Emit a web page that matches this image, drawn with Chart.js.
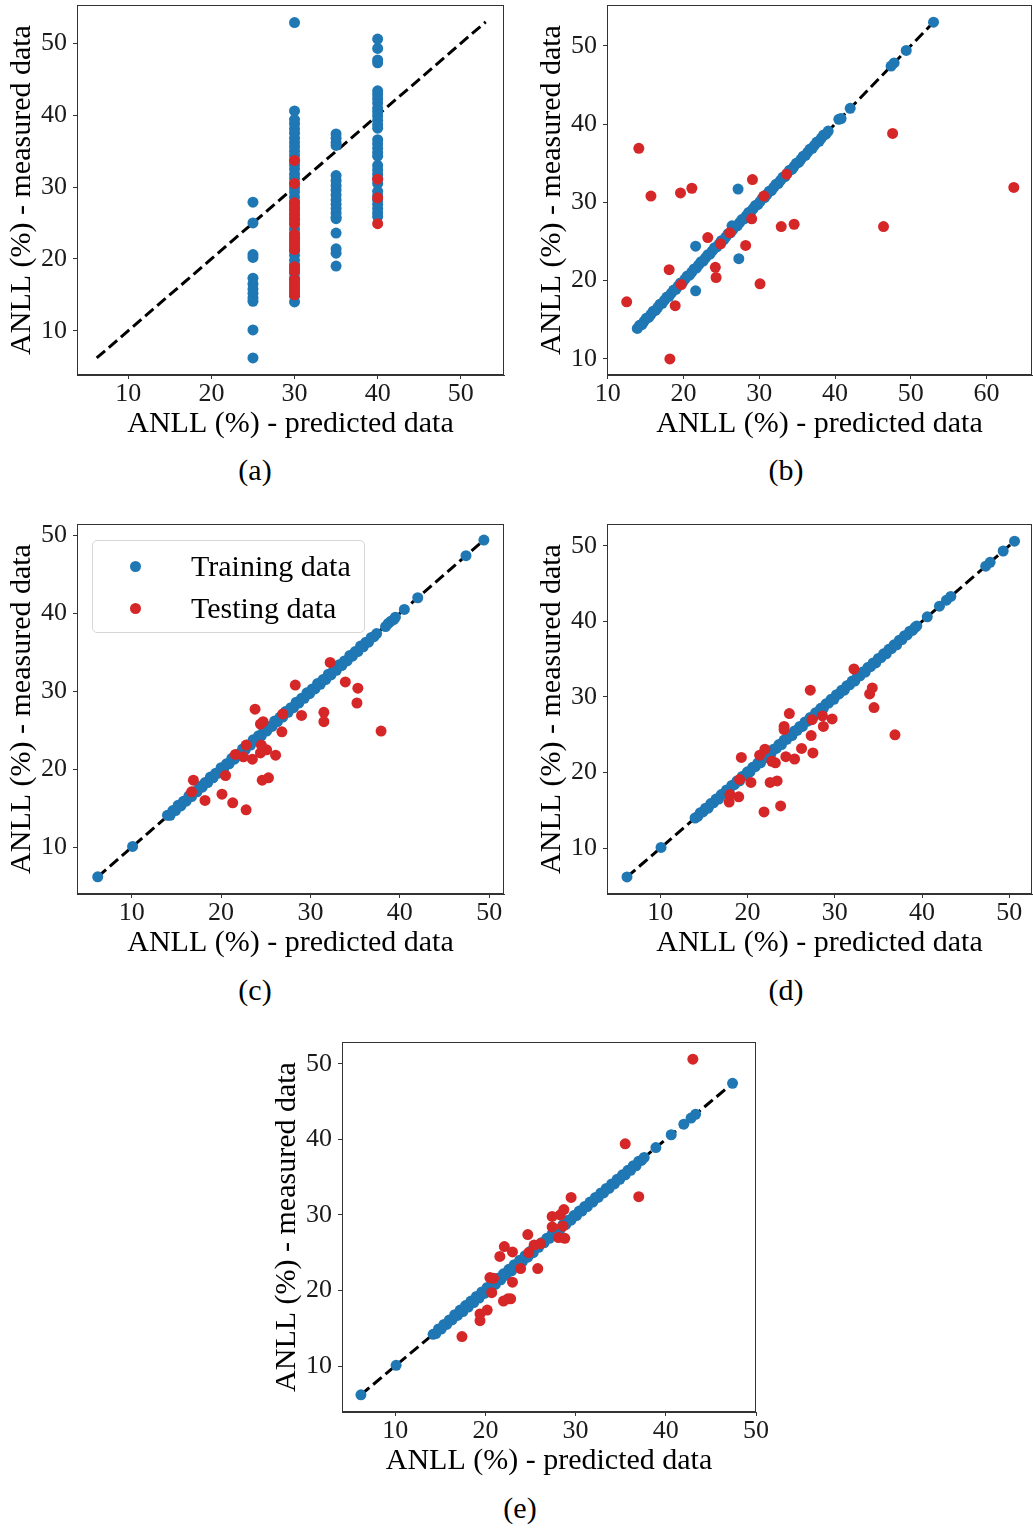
<!DOCTYPE html>
<html>
<head>
<meta charset="utf-8">
<script src="https://cdn.jsdelivr.net/npm/chart.js@4.4.1/dist/chart.umd.min.js"></script>
<style>
  html, body { margin: 0; padding: 0; background: #fff; }
  body { width: 1033px; height: 1529px; position: relative; overflow: hidden; font-family: "Liberation Serif", serif; color: #000; }
  .panel { position: absolute; }
  .cap { position: absolute; width: 80px; height: 36px; line-height: 36px; text-align: center; font-size: 30px; }
  .legend { position: absolute; left: 92px; top: 540px; width: 271px; height: 91px; border: 1px solid #d6d6d6; border-radius: 5px; background: rgba(255,255,255,0.85); }
  .lrow { position: absolute; left: 0; height: 36px; line-height: 36px; font-size: 30px; white-space: nowrap; }
  .dot { position: absolute; left: 37px; top: 13px; width: 11px; height: 11px; border-radius: 50%; }
  .ltxt { position: absolute; left: 98px; top: 0; }
</style>
</head>
<body>
<script>
// ---------------- data ----------------
// panel (a): predicted values are discrete columns
const colsA = [25, 30, 35, 40];
const trainMeasA = [
  [27.9, 25.0, 20.6, 20.2, 17.3, 16.5, 15.8, 15.2, 14.6, 14.1, 10.1, 6.2],
  [52.9, 40.6, 39.4, 38.8, 38.1, 37.5, 36.8, 36.2, 35.6, 35.0, 34.4, 33.7, 33.1, 32.5, 31.8, 31.2, 30.5, 29.9, 29.3, 28.6, 28.0, 27.4, 26.8, 26.1, 25.5, 24.9, 24.2, 23.6, 23.0, 22.4, 21.7, 21.1, 20.5, 19.8, 19.2, 18.6, 18.0, 17.3, 16.7, 16.1, 15.4, 14.8, 14.0],
  [37.4, 36.8, 36.2, 35.8, 31.6, 30.9, 30.2, 29.6, 28.9, 28.2, 27.6, 27.0, 26.4, 25.8, 25.6, 23.6, 21.4, 20.8, 19.0],
  [50.6, 49.3, 47.7, 47.3, 43.4, 42.9, 42.3, 41.7, 41.0, 40.5, 39.9, 39.3, 38.7, 38.2, 36.6, 36.0, 35.4, 34.8, 34.3, 33.0, 32.4, 31.8, 31.2, 30.5, 29.4, 28.8, 28.2, 27.6, 27.0, 26.4, 25.9]
];
const testMeasA = [
  [],
  [33.7, 30.5, 27.8, 27.0, 26.3, 25.6, 24.9, 23.4, 22.7, 22.0, 21.3, 18.9, 18.3, 17.1, 16.4, 15.7, 15.0],
  [],
  [31.1, 28.5, 24.9]
];
const lineA = [6.2, 53.0];
const xLimA = [3.83, 55.2], yLimA = [3.83, 55.35];

// panel (b)  [predicted, measured]
const trainB = [
  [13.9,13.9],[14.2,14.3],[14.5,14.4],[14.8,14.8],[15.1,15.2],[15.4,15.3],[15.7,15.7],[16.0,16.1],[16.3,16.2],[16.6,16.6],
  [16.9,17.0],[17.2,17.1],[17.5,17.5],[17.8,17.9],[18.1,18.0],[18.4,18.4],[18.7,18.8],[19.0,18.9],[19.3,19.3],[19.6,19.7],
  [19.9,19.8],[20.2,20.2],[20.5,20.6],[20.8,20.7],[21.1,21.1],[21.4,21.5],[21.7,21.6],[22.0,22.0],[22.3,22.4],[22.6,22.5],
  [22.9,22.9],[23.2,23.3],[23.5,23.4],[23.8,23.8],[24.1,24.2],[24.4,24.3],[24.7,24.7],[25.0,25.1],[25.3,25.2],[25.6,25.6],
  [25.9,26.0],[26.2,26.1],[26.5,26.5],[26.8,26.9],[27.1,27.0],[27.4,27.4],[27.7,27.8],[28.0,27.9],[28.3,28.3],[28.6,28.7],
  [28.9,28.8],[29.2,29.2],[29.5,29.6],[29.8,29.7],[30.1,30.1],[30.4,30.5],[30.7,30.6],[31.0,31.0],[31.3,31.4],[31.6,31.5],
  [31.9,31.9],[32.2,32.3],[32.5,32.4],[32.8,32.8],[33.1,33.2],[33.4,33.3],[33.7,33.7],[34.0,34.1],[34.3,34.2],[34.6,34.6],
  [34.9,35.0],[35.2,35.1],[35.5,35.5],[35.8,35.9],[36.1,36.0],[36.4,36.4],[36.7,36.8],[37.0,36.9],[37.3,37.3],[37.6,37.7],
  [37.9,37.8],[38.2,38.2],[38.5,38.6],[38.8,38.7],[39.1,39.1],
  [40.5,40.6],[40.8,40.7],[42.0,42.0],[47.4,47.4],[47.8,47.8],[49.4,49.4],[53.0,53.0],
  [27.2,31.7],[21.6,24.4],[21.6,18.7],[27.3,22.8],[26.4,27.0]
];
const testB = [
  [12.5,17.3],[14.1,36.9],[15.7,30.8],[18.1,21.4],[18.9,16.8],[18.2,10.0],[19.6,31.2],[19.7,19.5],[21.1,31.8],[23.2,25.5],
  [24.2,21.7],[24.3,20.4],[24.9,24.7],[26.1,26.1],[28.2,24.5],[29.0,27.9],[29.1,32.9],[30.1,19.6],[30.6,30.8],[32.9,26.9],
  [33.6,33.6],[34.6,27.2],[46.4,26.9],[47.6,38.8],[63.6,31.9]
];
const lineB = [13.9, 53.0];
const xLimB = [9.9, 66.0], yLimB = [7.95, 55.2];

// panel (c)
const trainC = [
  [6.2,6.2],[10.1,10.1],
  [14.0,14.1],[14.3,14.1],[14.6,14.7],[14.9,14.7],[15.2,15.4],[15.5,15.3],[15.8,15.9],[16.1,15.9],[16.4,16.6],[16.7,16.5],
  [17.0,17.1],[17.3,17.1],[17.6,17.8],[17.9,17.7],[18.2,18.3],[18.5,18.3],[18.8,19.0],[19.1,18.9],[19.4,19.5],[19.7,19.5],
  [20.0,20.2],[20.3,20.1],[20.6,20.7],[20.9,20.7],[21.2,21.4],[21.5,21.3],[21.8,21.9],[22.1,21.9],[22.4,22.6],[22.7,22.5],
  [23.0,23.1],[23.3,23.1],[23.6,23.8],[23.9,23.7],[24.2,24.3],[24.5,24.3],[24.8,25.0],[25.1,24.9],[25.4,25.5],[25.7,25.5],
  [26.0,26.2],[26.3,26.1],[26.6,26.7],[26.9,26.7],[27.2,27.4],[27.5,27.3],[27.8,27.9],[28.1,27.9],[28.4,28.6],[28.7,28.5],
  [29.0,29.1],[29.3,29.1],[29.6,29.8],[29.9,29.7],[30.2,30.3],[30.5,30.3],[30.8,31.0],[31.1,30.9],[31.4,31.5],[31.7,31.5],
  [32.0,32.2],[32.3,32.1],[32.6,32.7],[32.9,32.7],[33.2,33.4],[33.5,33.3],[33.8,33.9],[34.1,33.9],[34.4,34.6],[34.7,34.5],
  [35.0,35.1],[35.3,35.1],[35.6,35.8],[35.9,35.7],[36.2,36.3],[36.5,36.3],[36.8,36.9],[37.1,37.0],[37.4,37.4],
  [38.4,38.3],[38.7,38.7],[39.0,39.0],[39.3,39.2],[39.5,39.5],[40.5,40.5],[42.0,42.0],[47.4,47.4],[49.4,49.4]
];
const testC = [
  [16.7,17.1],[16.9,18.6],[18.2,16.0],[20.1,16.8],[20.5,19.2],[21.3,15.7],[21.6,21.9],[22.8,14.8],[22.8,23.1],[22.5,21.6],
  [23.5,21.3],[23.8,27.7],[24.4,25.8],[24.7,26.1],[24.5,23.1],[24.4,22.1],[25.1,22.5],[24.6,18.6],[25.3,18.9],[26.1,21.8],
  [26.8,24.8],[26.9,27.1],[28.3,30.8],[29.0,26.9],[31.5,26.1],[31.5,27.3],[32.2,33.7],[33.9,31.2],[35.3,30.4],[35.2,28.5],
  [37.9,24.9]
];
const lineC = [6.2, 49.4];
const xLimC = [3.88, 51.65], yLimC = [4.0, 51.46];

// panel (d)
const trainD = [
  [6.2,6.2],[10.1,10.1],
  [14.0,14.0],[14.3,14.2],[14.6,14.7],[14.9,14.8],[15.2,15.3],[15.5,15.3],[15.8,15.9],[16.1,16.0],[16.4,16.5],[16.7,16.5],
  [17.0,17.1],[17.3,17.2],[17.6,17.7],[17.9,17.7],[18.2,18.3],[18.5,18.4],[18.8,18.9],[19.1,18.9],[19.4,19.5],[19.7,19.6],
  [20.0,20.1],[20.3,20.1],[20.6,20.7],[20.9,20.8],[21.2,21.3],[21.5,21.3],[21.8,21.9],[22.1,22.0],[22.4,22.5],[22.7,22.5],
  [23.0,23.1],[23.3,23.2],[23.6,23.7],[23.9,23.7],[24.2,24.3],[24.5,24.4],[24.8,24.9],[25.1,24.9],[25.4,25.5],[25.7,25.6],
  [26.0,26.1],[26.3,26.1],[26.6,26.7],[26.9,26.8],[27.2,27.3],[27.5,27.3],[27.8,27.9],[28.1,28.0],[28.4,28.5],[28.7,28.5],
  [29.0,29.1],[29.3,29.2],[29.6,29.7],[29.9,29.7],[30.2,30.3],[30.5,30.4],[30.8,30.9],[31.1,30.9],[31.4,31.5],[31.7,31.6],
  [32.0,32.1],[32.3,32.1],[32.6,32.7],[32.9,32.8],[33.2,33.3],[33.5,33.3],[33.8,33.9],[34.1,34.0],[34.4,34.5],[34.7,34.5],
  [35.0,35.1],[35.3,35.2],[35.6,35.7],[35.9,35.7],[36.2,36.3],[36.5,36.4],[36.8,36.9],[37.1,36.9],[37.4,37.5],[37.7,37.6],
  [38.0,38.1],[38.3,38.2],[38.6,38.7],[38.9,38.8],[39.2,39.2],[39.4,39.4],
  [40.6,40.6],[42.0,42.0],[42.8,42.8],[43.3,43.3],[47.3,47.3],[47.8,47.8],[49.3,49.3],[50.6,50.6]
];
const testD = [
  [17.9,16.1],[18.0,17.1],[19.0,16.8],[19.1,19.1],[19.3,22.0],[20.4,18.7],[21.4,22.3],[22.0,23.1],[21.9,14.8],[22.6,18.7],
  [22.8,21.5],[23.2,21.3],[23.4,18.9],[23.8,15.6],[24.2,26.1],[24.2,25.7],[24.4,22.1],[24.8,27.8],[25.4,21.8],[26.2,23.2],
  [27.2,30.9],[27.3,24.9],[27.4,27.0],[27.5,22.6],[28.6,27.5],[28.7,26.1],[29.7,27.1],[32.2,33.7],[34.0,30.4],[34.3,31.2],
  [34.5,28.6],[36.9,25.0]
];
const lineD = [6.2, 50.6];
const xLimD = [3.91, 52.6], yLimD = [3.95, 52.87];

// panel (e)
const trainE = [
  [6.2,6.2],[10.1,10.1],
  [14.2,14.2],[14.5,14.3],[14.8,14.9],[15.1,14.9],[15.4,15.5],[15.7,15.5],[16.0,16.1],[16.3,16.1],[16.6,16.8],[16.9,16.7],
  [17.2,17.4],[17.5,17.2],[17.8,18.0],[18.1,17.8],[18.4,18.6],[18.7,18.4],[19.0,19.2],[19.3,19.0],[19.6,19.8],[19.9,19.6],
  [20.2,20.4],[20.5,20.2],[20.8,21.0],[21.1,20.8],[21.4,21.6],[21.7,21.4],[22.0,22.2],[22.3,22.0],[22.6,22.8],[22.9,22.6],
  [23.2,23.4],[23.5,23.2],[23.8,24.0],[24.1,23.8],[24.4,24.6],[24.7,24.4],[25.0,25.2],[25.3,25.0],[25.6,25.7],[25.9,25.7],
  [26.2,26.3],[26.5,26.3],[26.8,26.9],[27.1,26.9],[27.4,27.5],[27.7,27.5],[28.0,28.1],[28.3,28.1],[28.6,28.7],[28.9,28.7],
  [29.2,29.3],[29.5,29.3],[29.8,29.9],[30.1,29.9],[30.4,30.5],[30.7,30.5],[31.0,31.1],[31.3,31.1],[31.6,31.7],[31.9,31.7],
  [32.2,32.3],[32.5,32.3],[32.8,32.9],[33.1,32.9],[33.4,33.5],[33.7,33.5],[34.0,34.1],[34.3,34.1],[34.6,34.7],[34.9,34.7],
  [35.2,35.3],[35.5,35.3],[35.8,35.9],[36.1,35.9],[36.4,36.5],[36.7,36.5],[37.0,37.1],[37.3,37.2],[37.6,37.6],
  [38.9,38.9],[40.6,40.6],[42.0,42.0],[42.8,42.8],[43.3,43.3],[47.4,47.4]
];
const testE = [
  [17.4,13.9],[19.4,16.0],[19.4,16.9],[20.2,17.4],[20.7,19.7],[20.5,21.7],[20.9,21.6],[21.6,24.5],[22.1,25.8],[22.0,18.6],
  [22.5,18.9],[22.8,18.9],[23.0,21.1],[23.0,25.1],[23.9,22.9],[24.7,27.4],[24.8,25.0],[25.4,26.0],[26.1,26.2],[25.8,22.9],
  [27.4,29.8],[27.4,28.4],[28.1,27.0],[28.6,28.5],[28.7,30.7],[28.3,30.0],[28.8,26.9],[29.5,32.3],[35.5,39.4],[37.0,32.4],
  [43.0,50.6]
];
const lineE = [6.2, 47.4];
const xLimE = [4.1, 50.0], yLimE = [3.92, 52.87];

const tickVals = [10, 20, 30, 40, 50, 60];
const xTitle = 'ANLL (%) - predicted data';
const yTitle = 'ANLL (%) - measured data';
const legendLabels = ['Training data', 'Testing data'];
const captions = ['(a)', '(b)', '(c)', '(d)', '(e)'];

// ---------------- drawing ----------------
const BLUE = '#1f77b4', RED = '#d62728';
const FONT = "'Liberation Serif', 'Times New Roman', serif";
const Y_AXIS_W = 77, X_AXIS_H = 75, PAD_T = 5;
const R = 5.5;

const frame = {
  id: 'frame',
  afterDatasetsDraw(chart) {
    const a = chart.chartArea, c = chart.ctx;
    c.save();
    c.strokeStyle = '#333';
    c.lineWidth = 1;
    c.strokeRect(Math.round(a.left) + 0.5, Math.round(a.top) + 0.5, Math.round(a.right - a.left) - 1, Math.round(a.bottom - a.top) - 1);
    c.restore();
  }
};

function pts(arr) { return arr.map(p => ({ x: p[0], y: p[1] })); }

function panel(area, padR, xlim, ylim, lineEnds, train, test) {
  const left = area.L - Y_AXIS_W, top = area.T - PAD_T;
  const w = area.R - area.L + Y_AXIS_W + padR, h = area.B - area.T + PAD_T + X_AXIS_H;
  const div = document.createElement('div');
  div.className = 'panel';
  div.style.left = left + 'px'; div.style.top = top + 'px';
  div.style.width = w + 'px'; div.style.height = h + 'px';
  const cv = document.createElement('canvas');
  div.appendChild(cv);
  document.body.appendChild(div);

  const tickOpts = {
    font: { family: FONT, size: 26, lineHeight: 1.1 },
    color: '#1a1a1a',
    stepSize: 10,
    includeBounds: false,
    autoSkip: false,
    maxRotation: 0,
    callback: v => (tickVals.includes(v) ? String(v) : '')
  };
  const gridOpts = { display: true, drawOnChartArea: false, drawTicks: true, tickLength: 4, color: '#333', tickWidth: 1 };
  const borderOpts = { display: true, color: '#333', width: 1 };

  new Chart(cv, {
    type: 'scatter',
    data: {
      datasets: [
        { label: legendLabels[1], data: pts(test), backgroundColor: RED, pointRadius: R, pointBorderWidth: 0, order: 1 },
        { label: legendLabels[0], data: pts(train), backgroundColor: BLUE, pointRadius: R, pointBorderWidth: 0, order: 2 },
        { label: 'y = x', data: [{ x: lineEnds[0], y: lineEnds[0] }, { x: lineEnds[1], y: lineEnds[1] }],
          showLine: true, borderColor: '#000', borderWidth: 3, borderDash: [11, 5], pointRadius: 0, order: 3 }
      ]
    },
    options: {
      responsive: true,
      maintainAspectRatio: false,
      animation: false,
      events: [],
      layout: { autoPadding: false, padding: { top: PAD_T, right: padR, left: 0, bottom: 0 } },
      plugins: { legend: { display: false }, tooltip: { enabled: false } },
      scales: {
        x: {
          type: 'linear', min: xlim[0], max: xlim[1],
          ticks: Object.assign({}, tickOpts, { padding: 1 }),
          grid: gridOpts, border: borderOpts,
          title: { display: true, text: xTitle, color: '#000', font: { family: FONT, size: 30, lineHeight: 1.2 }, padding: { top: 0, bottom: 8 } },
          afterFit: s => { s.height = X_AXIS_H; s.paddingLeft = 0; s.paddingRight = 0; }
        },
        y: {
          type: 'linear', min: ylim[0], max: ylim[1],
          ticks: Object.assign({}, tickOpts, { padding: 6 }),
          grid: gridOpts, border: borderOpts,
          title: { display: true, text: yTitle, color: '#000', font: { family: FONT, size: 30, lineHeight: 1.2 }, padding: { top: 4, bottom: 0 } },
          afterFit: s => { s.width = Y_AXIS_W; s.paddingTop = 0; s.paddingBottom = 0; }
        }
      }
    },
    plugins: [frame]
  });
}

function caption(text, cx, cy) {
  const d = document.createElement('div');
  d.className = 'cap';
  d.textContent = text;
  d.style.left = (cx - 40) + 'px';
  d.style.top = (cy - 18) + 'px';
  document.body.appendChild(d);
}

const trainA = [], testA = [];
colsA.forEach((c, i) => {
  trainMeasA[i].forEach(v => trainA.push([c, v]));
  testMeasA[i].forEach(v => testA.push([c, v]));
});

panel({ L: 77, T: 5, R: 504, B: 375 }, 1, xLimA, yLimA, lineA, trainA, testA);
panel({ L: 607, T: 5, R: 1032, B: 375 }, 1, xLimB, yLimB, lineB, trainB, testB);
panel({ L: 77, T: 524, R: 504, B: 894 }, 1, xLimC, yLimC, lineC, trainC, testC);
panel({ L: 607, T: 524, R: 1032, B: 894 }, 1, xLimD, yLimD, lineD, trainD, testD);
panel({ L: 342, T: 1042, R: 756, B: 1412 }, 18, xLimE, yLimE, lineE, trainE, testE);

caption(captions[0], 255, 470);
caption(captions[1], 786, 470);
caption(captions[2], 255, 990);
caption(captions[3], 786, 990);
caption(captions[4], 520, 1508);

// legend inside panel (c)
const lg = document.createElement('div');
lg.className = 'legend';
[[legendLabels[0], BLUE, 7], [legendLabels[1], RED, 49]].forEach(([t, col, y]) => {
  const r = document.createElement('div');
  r.className = 'lrow';
  r.style.top = y + 'px';
  r.style.width = '100%';
  const dot = document.createElement('span'); dot.className = 'dot'; dot.style.background = col;
  const tx = document.createElement('span'); tx.className = 'ltxt'; tx.textContent = t;
  r.appendChild(dot); r.appendChild(tx);
  lg.appendChild(r);
});
document.body.appendChild(lg);
</script>
</body>
</html>
